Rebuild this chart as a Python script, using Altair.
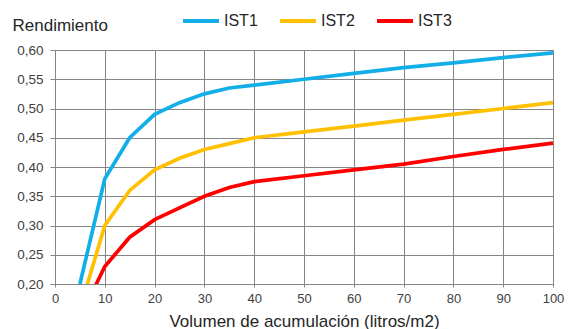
import altair as alt
import pandas as pd

volumen = [5, 10, 15, 20, 25, 30, 35, 40, 50, 60, 70, 80, 90, 100]
ist1 = [0.20, 0.38, 0.45, 0.49, 0.51, 0.525, 0.535, 0.54, 0.55, 0.56, 0.57, 0.578, 0.587, 0.595]
ist2 = [0.157, 0.30, 0.36, 0.395, 0.415, 0.43, 0.44, 0.45, 0.46, 0.47, 0.48, 0.49, 0.50, 0.51]
ist3 = [0.142, 0.23, 0.28, 0.31, 0.33, 0.35, 0.365, 0.375, 0.385, 0.395, 0.405, 0.418, 0.43, 0.441]
series = ["IST1", "IST2", "IST3"]
colors = ["#12AEE8", "#FFC000", "#FF0000"]

rows = []
for name, vals in zip(series, [ist1, ist2, ist3]):
    for x, y in zip(volumen, vals):
        rows.append({"vol": x, "rend": y, "serie": name})
df = pd.DataFrame(rows)

font = "Liberation Sans"
grid = "#858585"

chart = alt.Chart(df).mark_line(strokeWidth=3.7, clip=True).encode(
    x=alt.X("vol:Q", scale=alt.Scale(domain=[0, 100], nice=False),
            axis=alt.Axis(values=list(range(0, 101, 10)), title="Volumen de acumulación (litros/m2)",
                          titleFontSize=17, titleFont=font, titleFontWeight="normal", titleColor="#262626",
                          titleBaseline="alphabetic", titleY=42, labelFlush=False,
                          labelFontSize=13, labelFont=font, labelColor="#404040", labelPadding=5,
                          grid=True, gridColor=grid, gridWidth=1, domainColor=grid,
                          tickColor=grid, tickSize=3)),
    y=alt.Y("rend:Q", scale=alt.Scale(domain=[0.2, 0.6], nice=False, zero=False),
            axis=alt.Axis(values=[0.2, 0.25, 0.3, 0.35, 0.4, 0.45, 0.5, 0.55, 0.6],
                          labelExpr="replace(format(datum.value, '.2f'), '.', ',')",
                          title="Rendimiento", titleAngle=0, titleAlign="left", titleBaseline="alphabetic",
                          titleX=-43, titleY=-20, titleFontSize=17, titleFont=font, titleFontWeight="normal",
                          titleColor="#262626",
                          labelFontSize=13.5, labelFont=font, labelColor="#404040", labelPadding=7,
                          grid=True, gridColor=grid, gridWidth=1, domainColor=grid,
                          tickColor=grid, tickSize=5)),
    color=alt.Color("serie:N", scale=alt.Scale(domain=series, range=colors),
                    legend=alt.Legend(title=None, orient="none", legendX=126, legendY=-49,
                                      direction="horizontal", symbolType="stroke", symbolSize=1296,
                                      symbolStrokeWidth=4, labelFontSize=16, labelFont=font,
                                      labelColor="#262626", columnPadding=14, labelOffset=3)),
).properties(
    width=498, height=234,
    autosize=alt.AutoSizeParams(type="none"),
    padding={"left": 47, "top": 42, "right": 12, "bottom": 45},
).configure_view(stroke=grid, strokeWidth=1)

chart.save("out.html", embed_options={"renderer": "svg", "actions": False})
